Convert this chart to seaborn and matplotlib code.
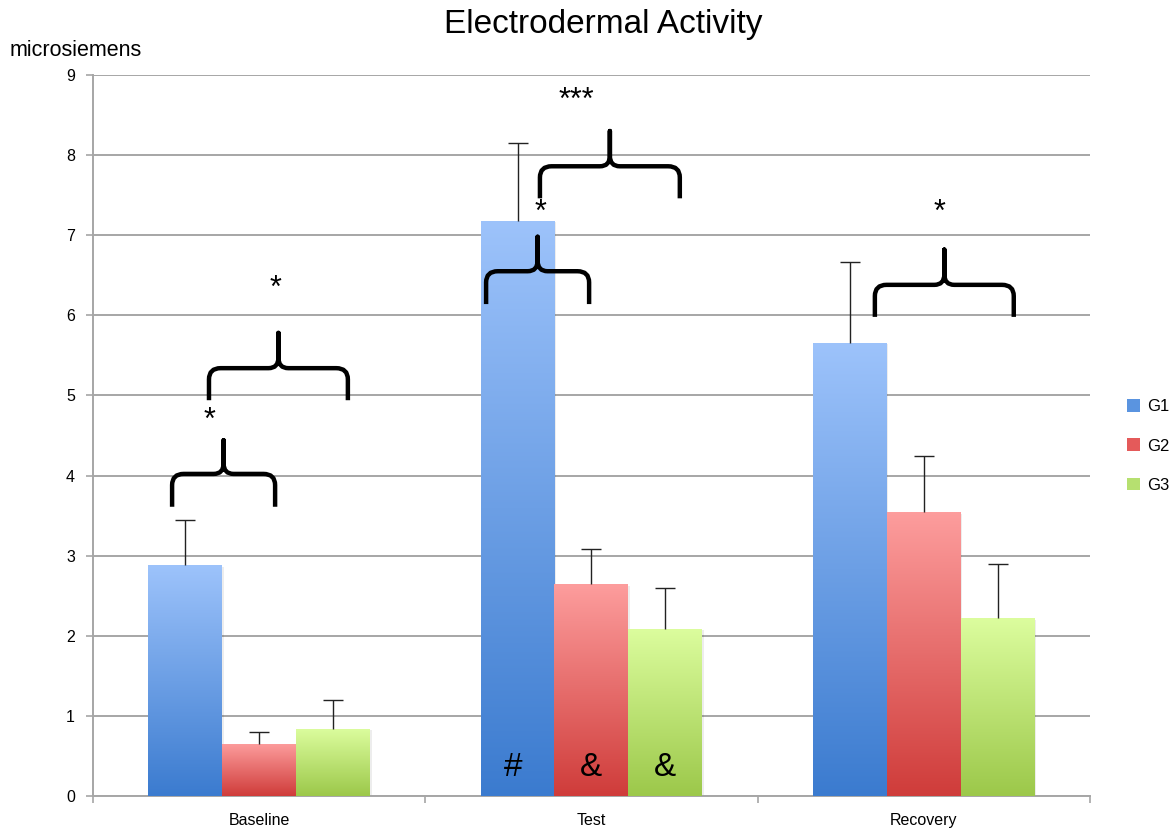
import numpy as np
import pandas as pd
import matplotlib
matplotlib.use("Agg")
import matplotlib.pyplot as plt
from matplotlib.path import Path
from matplotlib.patches import PathPatch, Patch
from matplotlib.colors import LinearSegmentedColormap
import seaborn as sns

# ---- data ----
categories = ["Baseline", "Test", "Recovery"]
groups = ["G1", "G2", "G3"]
means = {
    "G1": [2.88, 7.18, 5.66],
    "G2": [0.65, 2.64, 3.54],
    "G3": [0.84, 2.09, 2.22],
}
errors = {
    "G1": [0.56, 0.97, 1.01],
    "G2": [0.15, 0.44, 0.70],
    "G3": [0.36, 0.51, 0.67],
}
# significance braces: (x_left, x_right, y_bottom, y_bar, y_tip, label, label_x, label_y)
braces = [
    (-0.262, 0.048, 3.61, 4.02, 4.44, "*", -0.148, 4.76),
    (-0.151, 0.267, 4.94, 5.34, 5.78, "*", 0.048, 6.40),
    (0.683, 0.993, 6.14, 6.55, 6.98, "*", 0.848, 7.35),
    (0.845, 1.266, 7.46, 7.86, 8.30, "***", 0.956, 8.75),
    (1.853, 2.271, 5.98, 6.38, 6.82, "*", 2.049, 7.35),
]
# symbols written inside the Test bars
bar_marks = {"G1": "#", "G2": "&", "G3": "&"}
mark_category = "Test"

# gradient colours (top, bottom) for each group
grad = {
    "G1": ("#9dc3fb", "#3b7bcf"),
    "G2": ("#fd9d9d", "#cf3c3a"),
    "G3": ("#dcfd9e", "#9cc84a"),
}
legend_colors = {"G1": "#5a94e0", "G2": "#e45a5a", "G3": "#b6e070"}

df = pd.DataFrame(
    [(c, g, means[g][i]) for g in groups for i, c in enumerate(categories)],
    columns=["category", "group", "value"],
)

sns.set_theme(style="white")
plt.rcParams["font.family"] = ["Liberation Sans", "DejaVu Sans"]
plt.rcParams["text.color"] = "black"

fig = plt.figure(figsize=(11.7, 8.3), dpi=100)
ax = fig.add_axes([0.0795, 0.041, 0.852, 0.8687])

sns.barplot(
    data=df, x="category", y="value", hue="group", order=categories,
    hue_order=groups, palette=[legend_colors[g] for g in groups],
    errorbar=None, width=0.667, gap=0, legend=False, ax=ax,
    linewidth=0, zorder=3,
)

ax.set_xlim(-0.5, 2.5)
ax.set_ylim(0, 9)

# vertical gradients clipped to each bar, plus upper error bars
gradient = np.linspace(0, 1, 256).reshape(-1, 1)
for g, cont in zip(groups, ax.containers):
    cmap = LinearSegmentedColormap.from_list(g, [grad[g][1], grad[g][0]])
    xs, ys = [], []
    for j, p in enumerate(cont.patches):
        x0, w, h = p.get_x(), p.get_width(), p.get_height()
        # soft drop shadow
        ax.add_patch(plt.Rectangle((x0 + 0.005, 0), w, h - 0.02, color="#000000",
                                   alpha=0.07, lw=0, zorder=2.5))
        im = ax.imshow(gradient, cmap=cmap, aspect="auto", origin="lower",
                       extent=(x0, x0 + w, 0, h), zorder=3.1)
        im.set_clip_path(p)
        p.set_facecolor("none")
        xs.append(x0 + w / 2)
        ys.append(h)
    errs = errors[g]
    eb = ax.errorbar(xs, ys, yerr=[np.zeros(len(errs)), errs], fmt="none",
                     ecolor="#222222", elinewidth=1.0, capsize=7, capthick=1.0,
                     zorder=4)
    # keep only the upper caps
    caps = eb.lines[1]
    if len(caps) == 2:
        caps[0].remove()
    ci = categories.index(mark_category)
    ax.annotate(bar_marks[g], (xs[ci], 0.36), xytext=(-3 if g == "G1" else 0, 0),
                textcoords="offset points", ha="center", va="center",
                fontsize=24, color="black", zorder=5)

# curly braces
def draw_brace(ax, xl, xr, yb, yh, yt):
    rx, ry = 0.035, 0.14
    sx, sy = 0.03, 0.13
    xm = (xl + xr) / 2
    verts = [
        (xl, yb), (xl, yh - ry),
        (xl, yh), (xl + rx, yh),
        (xm - sx, yh),
        (xm, yh), (xm, yh + sy),
        (xm, yt),
        (xm, yh + sy),
        (xm, yh), (xm + sx, yh),
        (xr - rx, yh),
        (xr, yh), (xr, yh - ry),
        (xr, yb),
    ]
    codes = [
        Path.MOVETO, Path.LINETO,
        Path.CURVE3, Path.CURVE3,
        Path.LINETO,
        Path.CURVE3, Path.CURVE3,
        Path.LINETO,
        Path.LINETO,
        Path.CURVE3, Path.CURVE3,
        Path.LINETO,
        Path.CURVE3, Path.CURVE3,
        Path.LINETO,
    ]
    ax.add_patch(PathPatch(Path(verts, codes), fill=False, lw=3.2,
                           edgecolor="black", capstyle="butt",
                           joinstyle="round", zorder=6))

for xl, xr, yb, yh, yt, lab, lx, ly in braces:
    draw_brace(ax, xl, xr, yb, yh, yt)
    # the asterisk glyph sits high above the baseline, so drop the baseline
    ax.annotate(lab, (lx, ly), xytext=(0, -10), textcoords="offset points",
                ha="center", va="baseline", fontsize=22, color="black",
                zorder=6)

# axes styling
ax.yaxis.grid(True, color="#a6a6a6", linewidth=1.4, zorder=0)
ax.set_axisbelow(True)
for side in ["top", "right"]:
    ax.spines[side].set_visible(False)
for side in ["left", "bottom"]:
    ax.spines[side].set_color("#a6a6a6")
    ax.spines[side].set_linewidth(1.4)

ax.set_yticks(range(0, 10))
ax.tick_params(axis="y", which="major", length=5, width=1.2, color="#a6a6a6",
               labelsize=11.5, pad=8, left=True, labelcolor="black")
ax.set_xticks([0, 1, 2])
ax.set_xticklabels(categories)
ax.set_xticks([-0.5, 0.5, 1.5, 2.5], minor=True)
ax.tick_params(axis="x", which="major", length=0, labelsize=11.5, pad=12,
               labelcolor="black")
ax.tick_params(axis="x", which="minor", length=5, width=1.2, color="#a6a6a6",
               bottom=True)
ax.set_xlabel("")
ax.set_ylabel("")

fig.text(603 / 1170, 1 - 25 / 830, "Electrodermal Activity", ha="center",
         va="center", fontsize=24, color="black")
fig.text(10 / 1170, 1 - 51 / 830, "microsiemens", ha="left", va="center",
         fontsize=15.5, color="black")

handles = [Patch(facecolor=legend_colors[g], edgecolor="none", label=g)
           for g in groups]
fig.legend(handles=handles, loc="center left",
           bbox_to_anchor=(1112 / 1170, 1 - 446 / 830), frameon=False,
           fontsize=12, handlelength=0.8, handleheight=0.8,
           handletextpad=0.4, labelspacing=1.45)

fig.savefig("out.png", dpi=100)
